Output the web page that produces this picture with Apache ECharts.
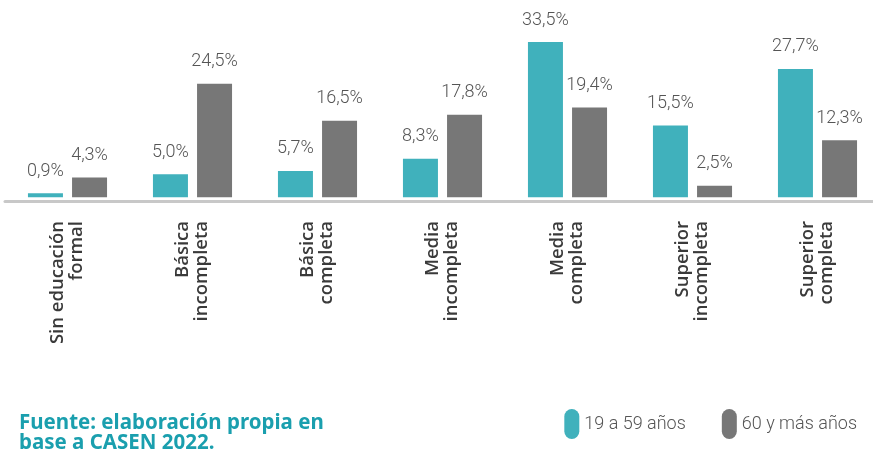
<!DOCTYPE html>
<html>
<head>
<meta charset="utf-8">
<script src="https://cdn.jsdelivr.net/npm/echarts@6/dist/echarts.min.js"></script>
<style>
  html, body { margin: 0; padding: 0; background: #fff; }
  #chart { width: 873px; height: 450px; }
</style>
</head>
<body>
<div id="chart"></div>
<script>
// niveles educacionales
const categories = [
  'Sin educación\nformal',
  'Básica\nincompleta',
  'Básica\ncompleta',
  'Media\nincompleta',
  'Media\ncompleta',
  'Superior\nincompleta',
  'Superior\ncompleta'
]
const joven = [0.9, 5.0, 5.7, 8.3, 33.5, 15.5, 27.7] // 19 a 59 años
const mayor = [4.3, 24.5, 16.5, 17.8, 19.4, 2.5, 12.3] // 60 y más años
const seriesNames = ['19 a 59 años', '60 y más años']
const fuente = 'Fuente: elaboración propia en\nbase a CASEN 2022.'

const pct = p => p.value.toFixed(1).replace('.', ',') + '%'
const pill = 'path://M0,7.5 A7.5,7.5 0 0 1 15,7.5 L15,22.5 A7.5,7.5 0 0 1 0,22.5 Z'

const labelStyle = {
  show: true,
  position: 'top',
  distance: 13,
  formatter: pct,
  fontFamily: 'Roboto',
  fontWeight: 300,
  fontSize: 18,
  color: '#555'
}

const chart = echarts.init(document.getElementById('chart'))
chart.setOption({
  animation: false,
  grid: {
    left: 5,
    top: 12,
    width: 875,
    height: 189,
    outerBoundsMode: 'none' // el eje sigue un poco más allá del borde derecho
  },
  legend: {
    right: 11,
    top: 404,
    itemWidth: 15,
    itemHeight: 30,
    itemGap: 36,
    icon: pill,
    textStyle: {
      fontFamily: 'Roboto',
      fontWeight: 300,
      fontSize: 18,
      color: '#555'
    },
    data: seriesNames
  },
  xAxis: {
    type: 'category',
    data: categories,
    axisTick: { show: false },
    axisLine: {
      onZero: false,
      lineStyle: { color: '#c8c8c8', width: 3 }
    },
    axisLabel: {
      rotate: 90,
      margin: 20,
      interval: 0,
      padding: [0, 0, 12, 0], // corre el bloque unos px a la izquierda
      fontFamily: 'Open Sans',
      fontWeight: 600,
      fontSize: 18.5,
      lineHeight: 19,
      color: '#3a3a3a'
    }
  },
  yAxis: {
    type: 'value',
    show: false,
    min: -0.8,
    max: 40
  },
  series: [{
    name: seriesNames[0],
    type: 'bar',
    barWidth: 35,
    barGap: '26%',
    data: joven,
    itemStyle: { color: '#40b1bc' },
    label: labelStyle
  }, {
    name: seriesNames[1],
    type: 'bar',
    barWidth: 35,
    data: mayor,
    itemStyle: { color: '#777777' },
    label: labelStyle
  }],
  graphic: [{
    type: 'text',
    left: 19,
    top: 413,
    style: {
      text: fuente,
      fontFamily: 'Noto Sans',
      fontWeight: 'bold',
      fontSize: 20.5,
      lineHeight: 20,
      fill: '#1a9fae'
    }
  }]
})
</script>
</body>
</html>
